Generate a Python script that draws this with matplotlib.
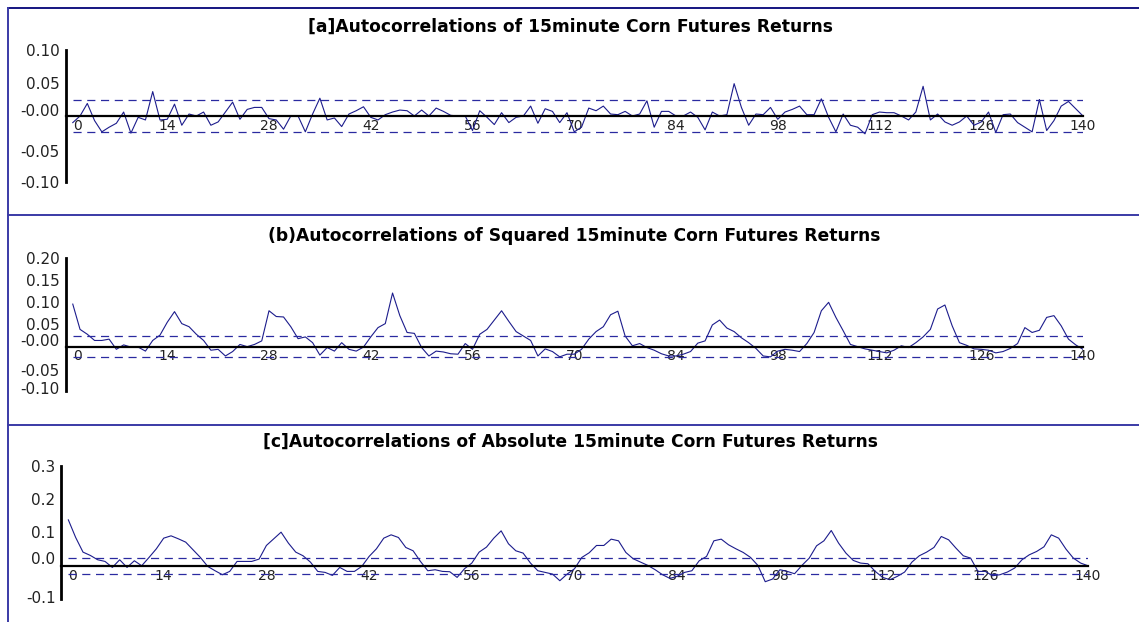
import numpy as np
import matplotlib
matplotlib.use("Agg")
import matplotlib.pyplot as plt
from matplotlib.lines import Line2D

# lags 1..140 of the three autocorrelation functions
lags = np.arange(1, 141)

acf_returns = [
    -0.010, 0.000, 0.019, -0.007, -0.024, -0.017, -0.011, 0.006, -0.026, -0.002,
    -0.006, 0.037, -0.006, -0.005, 0.018, -0.014, 0.003, 0.000, 0.006, -0.014,
    -0.009, 0.006, 0.021, -0.005, 0.010, 0.013, 0.013, -0.004, -0.006, -0.020,
    0.000, 0.000, -0.024, 0.003, 0.027, -0.006, -0.003, -0.016, 0.003, 0.008,
    0.014, -0.002, -0.006, 0.002, 0.006, 0.009, 0.008, 0.000, 0.009, 0.000,
    0.012, 0.007, 0.001, 0.000, 0.000, -0.022, 0.008, -0.002, -0.013, 0.005,
    -0.010, -0.002, 0.000, 0.015, -0.011, 0.011, 0.007, -0.010, 0.005, -0.024,
    -0.017, 0.012, 0.008, 0.015, 0.003, 0.002, 0.007, 0.000, 0.003, 0.023,
    -0.017, 0.007, 0.007, 0.000, 0.000, 0.006, -0.002, -0.021, 0.006, 0.000,
    0.002, 0.049, 0.013, -0.014, 0.003, 0.002, 0.013, -0.005, 0.006, 0.010,
    0.015, 0.002, 0.002, 0.026, -0.002, -0.024, 0.003, -0.014, -0.017, -0.027,
    0.002, 0.006, 0.005, 0.005, 0.000, -0.006, 0.006, 0.045, -0.006, 0.003,
    -0.009, -0.014, -0.009, 0.000, -0.014, -0.009, 0.006, -0.025, 0.002, 0.003,
    -0.010, -0.017, -0.024, 0.025, -0.022, -0.007, 0.015, 0.022, 0.011, 0.000,
]

acf_squared = [
    0.096, 0.039, 0.028, 0.014, 0.014, 0.017, -0.006, 0.004, -0.001, -0.001,
    -0.010, 0.014, 0.026, 0.055, 0.079, 0.052, 0.045, 0.028, 0.014, -0.008,
    -0.006, -0.021, -0.011, 0.005, 0.000, 0.005, 0.013, 0.081, 0.068, 0.067,
    0.045, 0.018, 0.022, 0.009, -0.019, -0.002, -0.010, 0.009, -0.006, -0.010,
    -0.001, 0.022, 0.043, 0.052, 0.121, 0.070, 0.032, 0.030, -0.002, -0.021,
    -0.010, -0.012, -0.016, -0.017, 0.007, -0.006, 0.028, 0.039, 0.060, 0.081,
    0.057, 0.034, 0.024, 0.014, -0.021, -0.005, -0.011, -0.023, -0.017, -0.017,
    -0.006, 0.017, 0.034, 0.045, 0.072, 0.080, 0.024, 0.002, 0.007, -0.002,
    -0.008, -0.016, -0.021, -0.021, -0.017, -0.011, 0.008, 0.013, 0.049, 0.060,
    0.042, 0.034, 0.020, 0.009, -0.004, -0.021, -0.023, -0.010, -0.006, -0.008,
    -0.011, 0.007, 0.032, 0.081, 0.100, 0.066, 0.036, 0.005, 0.000, -0.005,
    -0.008, -0.011, -0.014, -0.008, 0.002, -0.002, 0.009, 0.022, 0.039, 0.085,
    0.094, 0.047, 0.009, 0.003, -0.005, -0.006, -0.008, -0.014, -0.011, -0.004,
    0.007, 0.043, 0.032, 0.037, 0.066, 0.070, 0.047, 0.017, 0.004, -0.006,
]

acf_absolute = [
    0.138, 0.085, 0.041, 0.031, 0.018, 0.013, -0.005, 0.018, -0.005, 0.015,
    0.000, 0.025, 0.051, 0.083, 0.090, 0.081, 0.071, 0.048, 0.025, -0.002,
    -0.015, -0.027, -0.017, 0.013, 0.013, 0.013, 0.020, 0.061, 0.081, 0.101,
    0.068, 0.041, 0.030, 0.011, -0.017, -0.020, -0.029, -0.005, -0.017, -0.017,
    -0.002, 0.028, 0.051, 0.083, 0.093, 0.085, 0.055, 0.045, 0.013, -0.015,
    -0.012, -0.017, -0.018, -0.035, -0.009, 0.008, 0.041, 0.056, 0.083, 0.105,
    0.066, 0.045, 0.038, 0.008, -0.015, -0.020, -0.025, -0.045, -0.025, -0.009,
    0.025, 0.039, 0.061, 0.061, 0.080, 0.075, 0.040, 0.021, 0.011, 0.001,
    -0.012, -0.027, -0.038, -0.032, -0.020, -0.015, 0.015, 0.028, 0.075, 0.080,
    0.063, 0.051, 0.040, 0.025, 0.001, -0.048, -0.040, -0.012, -0.017, -0.024,
    0.001, 0.023, 0.060, 0.075, 0.106, 0.068, 0.038, 0.016, 0.008, 0.006,
    -0.017, -0.035, -0.042, -0.032, -0.019, 0.011, 0.030, 0.041, 0.055, 0.088,
    0.078, 0.053, 0.030, 0.023, -0.017, -0.017, -0.030, -0.027, -0.019, -0.007,
    0.018, 0.033, 0.043, 0.057, 0.093, 0.083, 0.050, 0.023, 0.008, 0.000,
]

conf_band = 0.024  # approx 2/sqrt(N)

titles = [
    "[a]Autocorrelations of 15minute Corn Futures Returns",
    "(b)Autocorrelations of Squared 15minute Corn Futures Returns",
    "[c]Autocorrelations of Absolute 15minute Corn Futures Returns",
]

x_tick_labels = ["0", "14", "28", "42", "56", "70", "84", "98", "112", "126", "140"]
x_tick_pos = [1.6, 14, 28, 42, 56, 70, 84, 98, 112, 126, 140]

y_labels_a = ["0.10", "0.05", "-0.00", "-0.05", "-0.10"]
y_ticks_a = [0.10, 0.05, 0.009, -0.053, -0.10]
y_labels_b = ["0.20", "0.15", "0.10", "0.05", "-0.00", "-0.05", "-0.10"]
y_ticks_b = [0.20, 0.15, 0.10, 0.05, 0.015, -0.052, -0.094]
y_labels_c = ["0.3", "0.2", "0.1", "0.0", "-0.1"]
y_ticks_c = [0.3, 0.2, 0.1, 0.024, -0.094]

W, H = 1139, 622
LINE_BLUE = "#1c1c8c"
FRAME_BLUE = "#3a3aa6"


def px_box(left, right, top, bottom):
    # pixel box -> figure fraction rect
    return [left / W, 1 - bottom / H, (right - left) / W, (bottom - top) / H]


def acf_panel(fig, rect, values, ylim, yticks, ylabels):
    ax = fig.add_axes(rect)
    ax.plot(lags, values, color=LINE_BLUE, lw=0.8)
    for b in (conf_band, -conf_band):
        ax.plot([lags[0], lags[-1]], [b, b], color="#2a2aa0", lw=0.9,
                linestyle=(0, (6.5, 4.5)))
    ax.set_xlim(0, 140)
    ax.set_ylim(*ylim)
    ax.set_facecolor("none")
    for s in ("top", "right"):
        ax.spines[s].set_visible(False)
    ax.spines["bottom"].set_position(("data", 0))
    ax.spines["bottom"].set_linewidth(1.6)
    ax.spines["left"].set_linewidth(2.0)
    ax.set_xticks(x_tick_pos)
    ax.set_xticklabels(x_tick_labels)
    ax.set_yticks(yticks)
    ax.set_yticklabels(ylabels)
    ax.tick_params(axis="x", length=0, pad=2, labelsize=10, labelcolor="#222222")
    ax.tick_params(axis="y", length=0, pad=4, labelsize=11, labelcolor="#222222")
    return ax


fig = plt.figure(figsize=(W / 100, H / 100), dpi=100)
fig.patch.set_facecolor("white")

acf_panel(fig, px_box(65.5, 1083, 50, 182), acf_returns, (-0.10, 0.10), y_ticks_a, y_labels_a)
acf_panel(fig, px_box(65.5, 1083, 258, 391), acf_squared, (-0.10, 0.20), y_ticks_b, y_labels_b)
acf_panel(fig, px_box(61, 1088, 466, 599), acf_absolute, (-0.10, 0.30), y_ticks_c, y_labels_c)

# panel titles
for t, (cx, cy) in zip(titles, [(570, 27), (574, 236), (570, 442)]):
    fig.text(cx / W, 1 - cy / H, t, ha="center", va="center",
             fontsize=12.3, fontweight="bold", color="black")

# blue frame around / between the panels
frame = [
    ((8, W), (8, 8), "#141480"),
    ((8, 8), (8, H), FRAME_BLUE),
    ((8, W), (215.5, 215.5), FRAME_BLUE),
    ((8, W), (424.5, 424.5), FRAME_BLUE),
]
for xs, ys, c in frame:
    fig.add_artist(Line2D([x / W for x in xs], [1 - y / H for y in ys],
                          color=c, lw=1.4, transform=fig.transFigure))

fig.savefig("out.png", dpi=100)
